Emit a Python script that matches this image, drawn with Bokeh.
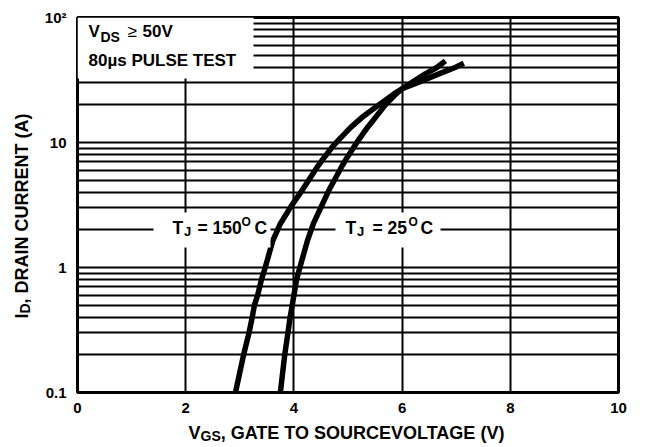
import math
from bokeh.plotting import figure
from bokeh.models import FixedTicker, Label, BoxAnnotation, Range1d
from bokeh.embed import file_html
from bokeh.resources import INLINE

# ---- data ----
v_150 = [2.92, 3.07, 3.17, 3.23, 3.27, 3.33, 3.40, 3.47, 3.61, 3.75, 3.95, 4.17, 4.30, 4.42, 4.53,
         4.71, 4.82, 5.05, 5.26, 5.57, 5.85, 6.00, 6.31, 6.68, 6.99, 7.14]
i_150 = [0.10, 0.20, 0.30, 0.40, 0.50, 0.60, 0.80, 1.00, 1.64, 2.24, 3.10, 4.26, 5.20, 6.26, 7.30,
         9.20, 10.4, 13.2, 15.9, 20.0, 24.5, 26.9, 30.4, 35.4, 40.0, 43.0]
v_25 = [3.75, 3.83, 3.89, 3.93, 3.97, 4.00, 4.05, 4.11, 4.25, 4.36, 4.51, 4.66, 4.77, 4.87, 4.96,
        5.11, 5.19, 5.36, 5.51, 5.69, 5.89, 6.00, 6.19, 6.43, 6.65, 6.80]
i_25 = [0.10, 0.20, 0.30, 0.40, 0.50, 0.60, 0.80, 1.00, 1.64, 2.24, 3.10, 4.26, 5.20, 6.26, 7.30,
        9.20, 10.4, 13.2, 15.9, 20.0, 24.5, 26.9, 30.4, 35.4, 40.0, 45.0]

x_ticks = [0, 2, 4, 6, 8, 10]
y_ticks = [0.1, 1, 10, 100]
y_minor = [0.2, 0.3, 0.4, 0.5, 0.6, 0.7, 0.8, 0.9,
           2, 3, 4, 5, 6, 7, 8, 9,
           20, 30, 40, 50, 60, 70, 80, 90]
y_tick_labels = {0.1: "0.1", 1: "1", 10: "10", 100: "10\u00b2"}

FONT = "Liberation Sans"

FW, FH = 541, 375
ML, MT, MR, MB = 77, 17, 22, 54
X0 = ML          # page x of frame left
Y0 = MT          # page y of frame top
SHIFT = 6        # measured offset of the rendered baseline

p = figure(frame_width=FW, frame_height=FH, y_axis_type="log",
           x_range=Range1d(0, 10), y_range=Range1d(0.1, 100),
           output_backend="svg", toolbar_location=None, title_location=None,
           min_border_left=ML, min_border_top=MT, min_border_right=MR, min_border_bottom=MB)
p.background_fill_color = "white"
p.border_fill_color = "white"
p.outline_line_color = "black"
p.outline_line_width = 3

p.xaxis.ticker = FixedTicker(ticks=x_ticks)
p.yaxis.ticker = FixedTicker(ticks=y_ticks, minor_ticks=y_minor)
p.yaxis.major_label_overrides = y_tick_labels
for ax in (p.xaxis, p.yaxis):
    ax.axis_line_color = None
    ax.major_tick_line_color = None
    ax.minor_tick_line_color = None
    ax.major_label_text_font = FONT
    ax.major_label_text_font_style = "bold"
    ax.major_label_text_font_size = "15px"
    ax.major_label_text_color = "black"
p.xaxis.major_label_standoff = 4
p.yaxis.major_label_standoff = 5

p.xgrid.grid_line_color = "black"
p.xgrid.grid_line_width = 2
p.ygrid.grid_line_color = "black"
p.ygrid.grid_line_width = 2
p.ygrid.minor_grid_line_color = "black"
p.ygrid.minor_grid_line_width = 2


def dx(px):
    return (px - X0) * 10.0 / FW


def dy(py):
    return 10 ** (-1 + 3.0 * (Y0 + FH - py) / FH)


def box(l, r, t, b):
    p.add_layout(BoxAnnotation(left=dx(l), right=dx(r), top=dy(t), bottom=dy(b),
                               fill_color="white", fill_alpha=1.0, line_color=None))


def txt(s, px, py, size, angle=0.0, style="bold", place="center"):
    if angle == 0.0:
        py = py - SHIFT
    else:
        px = px - SHIFT
    lab = Label(x=dx(px), y=dy(py), text=s, text_font=FONT, text_font_style=style,
                text_font_size=f"{size}px", text_color="black", angle=angle,
                text_align="left", text_baseline="alphabetic")
    p.add_layout(lab, place)


# white boxes behind in-plot texts
box(X0, 253, Y0, 78)
box(153, 270, 212, 247)
box(335, 440, 212, 247)

# curves
p.line(v_150, i_150, line_width=5.5, line_color="black", line_join="round")
p.line(v_25, i_25, line_width=5.5, line_color="black", line_join="round")

# top-left note
txt("V", 88, 37, 17)
txt("DS", 100, 42, 14)
txt("\u2265", 127, 37, 17, style="normal")
txt("50V", 142, 37, 17)
txt("80\u00b5s PULSE TEST", 88, 66, 17)

# T_J = 150 C
txt("T", 172, 233, 17.5)
txt("J", 183.5, 237, 13)
txt("= 150", 197, 233, 17.5)
txt("O", 241, 227, 12)
txt("C", 254, 233, 17.5)

# T_J = 25 C
txt("T", 345, 233, 17.5)
txt("J", 356.5, 237, 13)
txt("= 25", 372, 233, 17.5)
txt("O", 408, 227, 12)
txt("C", 420, 233, 17.5)

# x axis title (pieces spread over side panels so that no panel grows)
xs = 188
txt("V", xs, 438, 18, place="left")
txt("GS", xs + 12.0, 441, 14, place="right")
txt(", GATE TO SOURCEVOLTAGE (V)", xs + 12.0 + 20.2, 438, 18, place="below")

# y axis title (rotated)
ys = 318
rot = math.pi / 2
txt("I", 27, ys, 18, angle=rot, place="above")
txt("D", 30, ys - 5.0, 14, angle=rot, place="above")
txt(", DRAIN CURRENT (A)", 27, ys - 5.0 - 10.1, 18, angle=rot, place="left")

open("out.html", "w").write(file_html(p, INLINE))
